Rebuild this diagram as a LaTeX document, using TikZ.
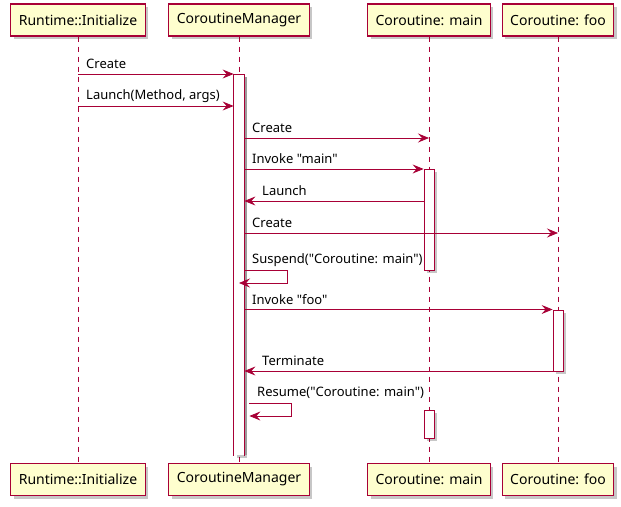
\documentclass[tikz,border=0pt]{standalone}
\usepackage{fontspec}
\setmainfont{Noto Sans}[Ligatures=TeXOff]
\usetikzlibrary{arrows.meta,shadows}
\definecolor{umlred}{HTML}{A80036}
\definecolor{umlbox}{HTML}{FEFECE}
\tikzset{
  part/.style={draw=umlred, line width=1.2pt, fill=umlbox, minimum height=32pt,
    inner xsep=8pt, font=\fontsize{14}{16}\selectfont,
    drop shadow={shadow xshift=3pt, shadow yshift=-3pt, fill=black, opacity=.22}},
  life/.style={umlred, dash pattern=on 5pt off 5pt, line width=.8pt},
  act/.style={draw=umlred, fill=white, line width=.8pt, minimum width=10pt, inner sep=0pt, anchor=north,
    drop shadow={shadow xshift=3pt, shadow yshift=-3pt, fill=black, opacity=.22}},
  msg/.style={umlred, line width=.8pt, -{Stealth[length=11pt, width=9pt, inset=4pt]}},
  lbl/.style={anchor=west, inner sep=0pt, font=\fontsize{13}{15}\selectfont}
}
\begin{document}
\begin{tikzpicture}[x=1pt, y=-1pt]
	\useasboundingbox (0,0) rectangle (621,506);

	% participants, top and bottom
	\node[part] (rt) at (78,20) {Runtime::Initialize};
	\node[part] (cm) at (239,20) {CoroutineManager};
	\node[part] (mn) at (429,20) {Coroutine: main};
	\node[part] (fo) at (558,20) {Coroutine: foo};

	\node[part] (rtB) at (78,479.5) {Runtime::Initialize};
	\node[part] (cmB) at (239,479.5) {CoroutineManager};
	\node[part] (mnB) at (429,479.5) {Coroutine: main};
	\node[part] (foB) at (558,479.5) {Coroutine: foo};

	% lifelines
	\draw[life] (rt) -- (rtB);
	\draw[life] (cm) -- (cmB);
	\draw[life] (mn) -- (mnB);
	\draw[life] (fo) -- (foB);

	% activations
	\fill[black, opacity=.22] (244,77) rectangle (247,455);
	\node[act, draw=none, drop shadow={opacity=0}, minimum height=381pt] (cmA) at (239,74) {};
	\draw[umlred, line width=.8pt] (cmA.south west) |- (cmA.north east) -- (cmA.south east);
	\node[act, minimum height=101pt] (mnA) at (429,169) {};
	\node[act, minimum height=27.5pt] (mnA2) at (429,410) {};
	\node[act, minimum height=61.5pt] (foA) at (558,309.5) {};

	% messages
	\draw[msg] (rt.south |- 0,74) -- (cmA.west |- 0,74);
	\node[lbl] at (86,64) {Create};
	\draw[msg] (rt.south |- 0,106) -- (cmA.west |- 0,106);
	\node[lbl] at (86,96) {Launch(Method, args)};

	\draw[msg] (cmA.east |- 0,138) -- (mn.south |- 0,138);
	\node[lbl] at (252,128) {Create};
	\draw[msg] (cmA.east |- 0,169) -- (mnA.west |- 0,169);
	\node[lbl] at (252,159) {Invoke "main"};
	\draw[msg] (mnA.west |- 0,201) -- (cmA.east |- 0,201);
	\node[lbl] at (262,191) {Launch};
	\draw[msg] (cmA.east |- 0,233) -- (fo.south |- 0,233);
	\node[lbl] at (252,223) {Create};

	\draw[msg] (cmA.east |- 0,270) -- ++(43,0) |- (cm.south |- 0,283);
	\node[lbl] at (252,260) {Suspend("Coroutine: main")};

	\draw[msg] (cmA.east |- 0,309.5) -- (foA.west |- 0,309.5);
	\node[lbl] at (252,299.5) {Invoke "foo"};
	\draw[msg] (foA.west |- 0,371) -- (cmA.east |- 0,371);
	\node[lbl] at (262,361) {Terminate};

	\draw[msg] ([xshift=5pt]cmA.east |- 0,403) -- ++(42,0) |- ([xshift=5pt]cmA.east |- 0,416);
	\node[lbl] at (257,393) {Resume("Coroutine: main")};
\end{tikzpicture}
\end{document}
